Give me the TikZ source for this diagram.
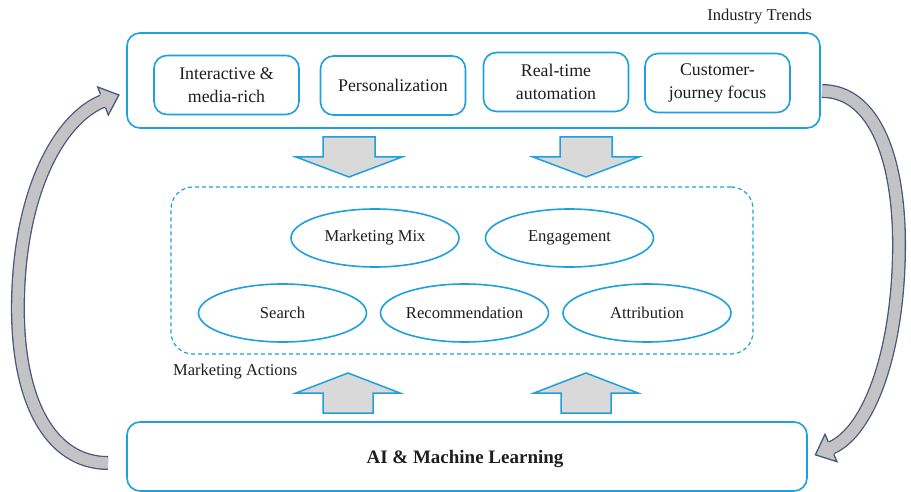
\documentclass[tikz,border=0pt]{standalone}
\usepackage{fontspec}
\setmainfont{Liberation Serif}
\usetikzlibrary{shapes.geometric}
\definecolor{cblue}{RGB}{30,160,222}
\definecolor{agray}{RGB}{217,217,217}
\definecolor{cgray}{RGB}{195,195,198}
\definecolor{cline}{RGB}{72,88,125}
\definecolor{ctext}{RGB}{30,30,30}
\tikzset{
  bigbox/.style={draw=cblue, line width=1.6pt, rounded corners=13pt, inner sep=0pt},
  trendbox/.style={draw=cblue, line width=1.6pt, rounded corners=13pt, minimum width=145pt, minimum height=59pt, align=center, inner sep=0pt, font=\fontsize{17.8}{23}\selectfont, text=ctext},
  actbox/.style={draw=cblue, line width=1.2pt, dashed, dash pattern=on 4pt off 3pt, rounded corners=22pt, inner sep=0pt},
  act/.style={draw=cblue, line width=1.6pt, ellipse, minimum width=168pt, minimum height=58pt, inner sep=0pt, font=\fontsize{16.6}{20}\selectfont, text=ctext},
  blockarrow/.style={fill=agray, draw=cblue, line width=1.5pt, line join=miter},
  lbl/.style={font=\fontsize{16.5}{19}\selectfont, text=ctext, inner sep=0pt},
  bandout/.style={draw=cline, line width=14pt},
  bandin/.style={draw=cgray, line width=11.4pt},
}
\begin{document}
\begin{tikzpicture}[x=1pt,y=-1pt]
\useasboundingbox[fill=white] (0,0) rectangle (911,492);

% top box
\node[bigbox, minimum width=693pt, minimum height=95pt] (trends) at (473.5,80.5) {};
\node[lbl, anchor=base east] (trendlbl) at (812,21) {Industry Trends};
\node[trendbox] (t1) at (226.5,85) {Interactive \&\\media-rich};
\node[trendbox] (t2) at (393,85.5) {Personalization};
\node[trendbox] (t3) at (556,82) {Real-time\\automation};
\node[trendbox] (t4) at (717.5,83) {Customer-\\journey focus};

% actions box
\node[actbox, minimum width=582pt, minimum height=167pt] (actions) at (462,270.5) {};
\node[lbl, anchor=base west] (actlbl) at (173,375) {Marketing Actions};
\node[act] (mix) at (375,238) {Marketing Mix};
\node[act] (eng) at (569.5,238) {Engagement};
\node[act] (search) at (282.5,313) {Search};
\node[act] (rec) at (464.5,313) {Recommendation};
\node[act] (attr) at (647,313) {Attribution};

% bottom box
\node[bigbox, minimum width=680pt, minimum height=69pt] (ai) at (467,456.5) {};
\node[font=\bfseries\fontsize{19}{22}\selectfont, text=ctext] (ailbl) at (465,459) {AI \& Machine Learning};

% block arrows down
\foreach \cx in {349,586}{
  \draw[blockarrow] (\cx-26,137) -- (\cx+26,137) -- (\cx+26,157) -- (\cx+53,157) -- (\cx,177) -- (\cx-53,157) -- (\cx-26,157) -- cycle;
}
% block arrows up
\foreach \cx in {348,586}{
  \draw[blockarrow] (\cx-25,413) -- (\cx+25,413) -- (\cx+25,393) -- (\cx+52,393) -- (\cx,373) -- (\cx-52,393) -- (\cx-25,393) -- cycle;
}

% left curved arrow (AI -> trends)
\coordinate (lstart) at (108,463);
\coordinate (lend) at (103,101);
\draw[bandout] (lstart) .. controls (50,463) and (16,400) .. (18,300) .. controls (20,190) and (60,118) .. (lend);
\draw[bandin] (lstart) .. controls (50,463) and (16,400) .. (18,300) .. controls (20,190) and (60,118) .. (lend);
\fill[cgray] (105.5,107.6) -- (108.3,115) -- (118.9,95) -- (97.7,87) -- (100.5,94.4) -- (99.5,99) -- cycle;
\draw[cline, line width=1.3pt, line join=miter] (105.5,107.6) -- (108.3,115) -- (118.9,95) -- (97.7,87) -- (100.5,94.4);

% right curved arrow (trends -> AI)
\coordinate (rstart) at (822,91);
\coordinate (rend) at (831,448);
\draw[bandout] (rstart) .. controls (875,91) and (900,160) .. (899,250) .. controls (898,350) and (870,431) .. (rend);
\draw[bandin] (rstart) .. controls (875,91) and (900,160) .. (899,250) .. controls (898,350) and (870,431) .. (rend);
\fill[cgray] (833.8,454.4) -- (837,461.7) -- (815.4,454.8) -- (825,434.3) -- (828.2,441.6) -- (833,446) -- cycle;
\draw[cline, line width=1.3pt, line join=miter] (833.8,454.4) -- (837,461.7) -- (815.4,454.8) -- (825,434.3) -- (828.2,441.6);
\end{tikzpicture}
\end{document}
